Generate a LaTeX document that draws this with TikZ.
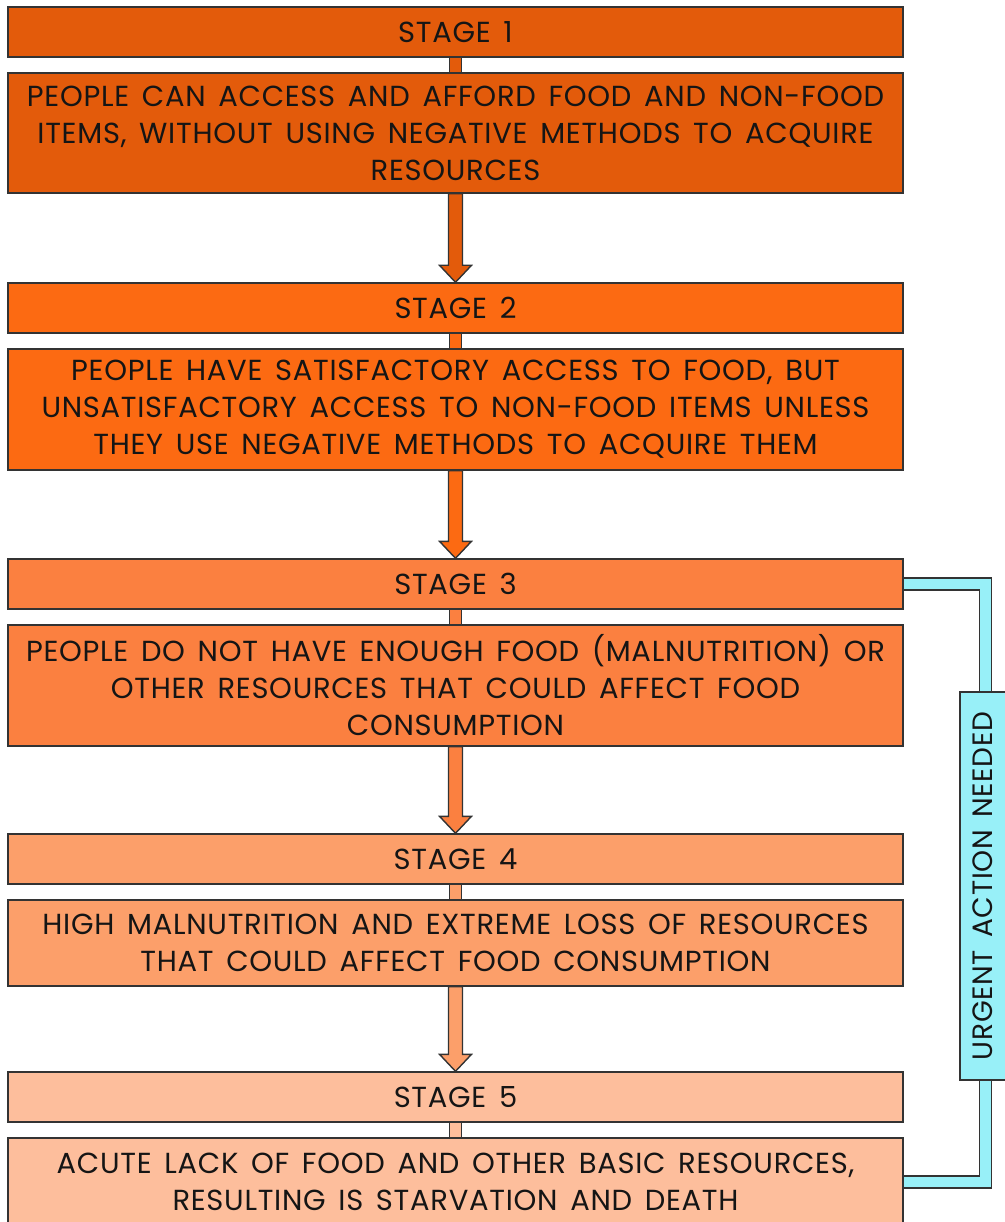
\documentclass[tikz,border=0pt]{standalone}
\usepackage{fontspec}
\setmainfont{Poppins}
\newfontfamily\diagfont[LetterSpace=2.5,WordSpace=1.5]{Poppins}
\usetikzlibrary{calc}
\definecolor{cA}{HTML}{E35B0B}
\definecolor{cB}{HTML}{FC6A12}
\definecolor{cC}{HTML}{FB8040}
\definecolor{cD}{HTML}{FC9F6A}
\definecolor{cE}{HTML}{FDBE9C}
\definecolor{band}{HTML}{98F0F8}
\definecolor{edge}{HTML}{333333}
\definecolor{txt}{HTML}{151515}
\tikzset{
  outl/.style={draw=edge, line width=1.4pt, line join=miter},
  hdr/.style={outl, minimum width=895pt, minimum height=50pt, inner sep=0pt,
    font=\diagfont\fontsize{29}{37}\selectfont, text=txt},
  bdy/.style={hdr, align=center},
  urg/.style={outl, fill=band, rotate=90, minimum width=388pt, minimum height=46pt,
    inner sep=0pt, font=\diagfont\fontsize{28}{30}\selectfont, text=txt},
}
\begin{document}
\begin{tikzpicture}[x=1pt,y=-1pt]
\useasboundingbox (0,0) rectangle (1004,1222);
\node[hdr, fill=cA] (h1) at (455.5,32) {STAGE 1};
\node[bdy, fill=cA, minimum height=120pt] (b1) at (455.5,133) {PEOPLE CAN ACCESS AND AFFORD FOOD AND NON-FOOD\\ITEMS, WITHOUT USING NEGATIVE METHODS TO ACQUIRE\\RESOURCES};
\node[hdr, fill=cB] (h2) at (455.5,308) {STAGE 2};
\node[bdy, fill=cB, minimum height=121pt] (b2) at (455.5,409.5) {PEOPLE HAVE SATISFACTORY ACCESS TO FOOD, BUT\\UNSATISFACTORY ACCESS TO NON-FOOD ITEMS UNLESS\\THEY USE NEGATIVE METHODS TO ACQUIRE THEM};
\node[hdr, fill=cC] (h3) at (455.5,584) {STAGE 3};
\node[bdy, fill=cC, minimum height=121pt] (b3) at (455.5,685.5) {PEOPLE DO NOT HAVE ENOUGH FOOD (MALNUTRITION) OR\\OTHER RESOURCES THAT COULD AFFECT FOOD\\CONSUMPTION};
\node[hdr, fill=cD] (h4) at (455.5,859) {STAGE 4};
\node[bdy, fill=cD, minimum height=86pt] (b4) at (455.5,943) {HIGH MALNUTRITION AND EXTREME LOSS OF RESOURCES\\THAT COULD AFFECT FOOD CONSUMPTION};
\node[hdr, fill=cE] (h5) at (455.5,1097) {STAGE 5};
\node[bdy, fill=cE, minimum height=88pt] (b5) at (455.5,1182) {ACUTE LACK OF FOOD AND OTHER BASIC RESOURCES,\\RESULTING IS STARVATION AND DEATH};
% stubs between header and body
\foreach \h/\b/\c in {h1/b1/cA, h2/b2/cB, h3/b3/cC, h4/b4/cD, h5/b5/cE}
  \draw[outl, fill=\c] ([xshift=-6pt]\h.south) rectangle ([xshift=6pt]\b.north);
% arrows
\foreach \a/\b/\c in {b1/h2/cA, b2/h3/cB, b3/h4/cC, b4/h5/cD}
  \draw[outl, fill=\c] let \p1=(\a.south), \p2=(\b.north) in
    (\x1-7pt,\y1) -- (\x1-7pt,\y2+17pt) -- (\x1-16pt,\y2+17pt) -- (\x1,\y2)
    -- (\x1+16pt,\y2+17pt) -- (\x1+7pt,\y2+17pt) -- (\x1+7pt,\y1) -- cycle;
% bracket
\draw[outl, fill=band] let \p1=(h3.east), \p2=(b5.east) in
  (\x1,\y1+6pt) -- (\x1+88pt,\y1+6pt) -- (\x1+88pt,\y2-6pt) -- (\x1,\y2-6pt)
  -- (\x1,\y2+6pt) -- (\x1+76pt,\y2+6pt) -- (\x1+76pt,\y1-6pt) -- (\x1,\y1-6pt) -- cycle;
\node[urg] (urgent) at (983,886) {URGENT ACTION NEEDED};
\end{tikzpicture}
\end{document}
